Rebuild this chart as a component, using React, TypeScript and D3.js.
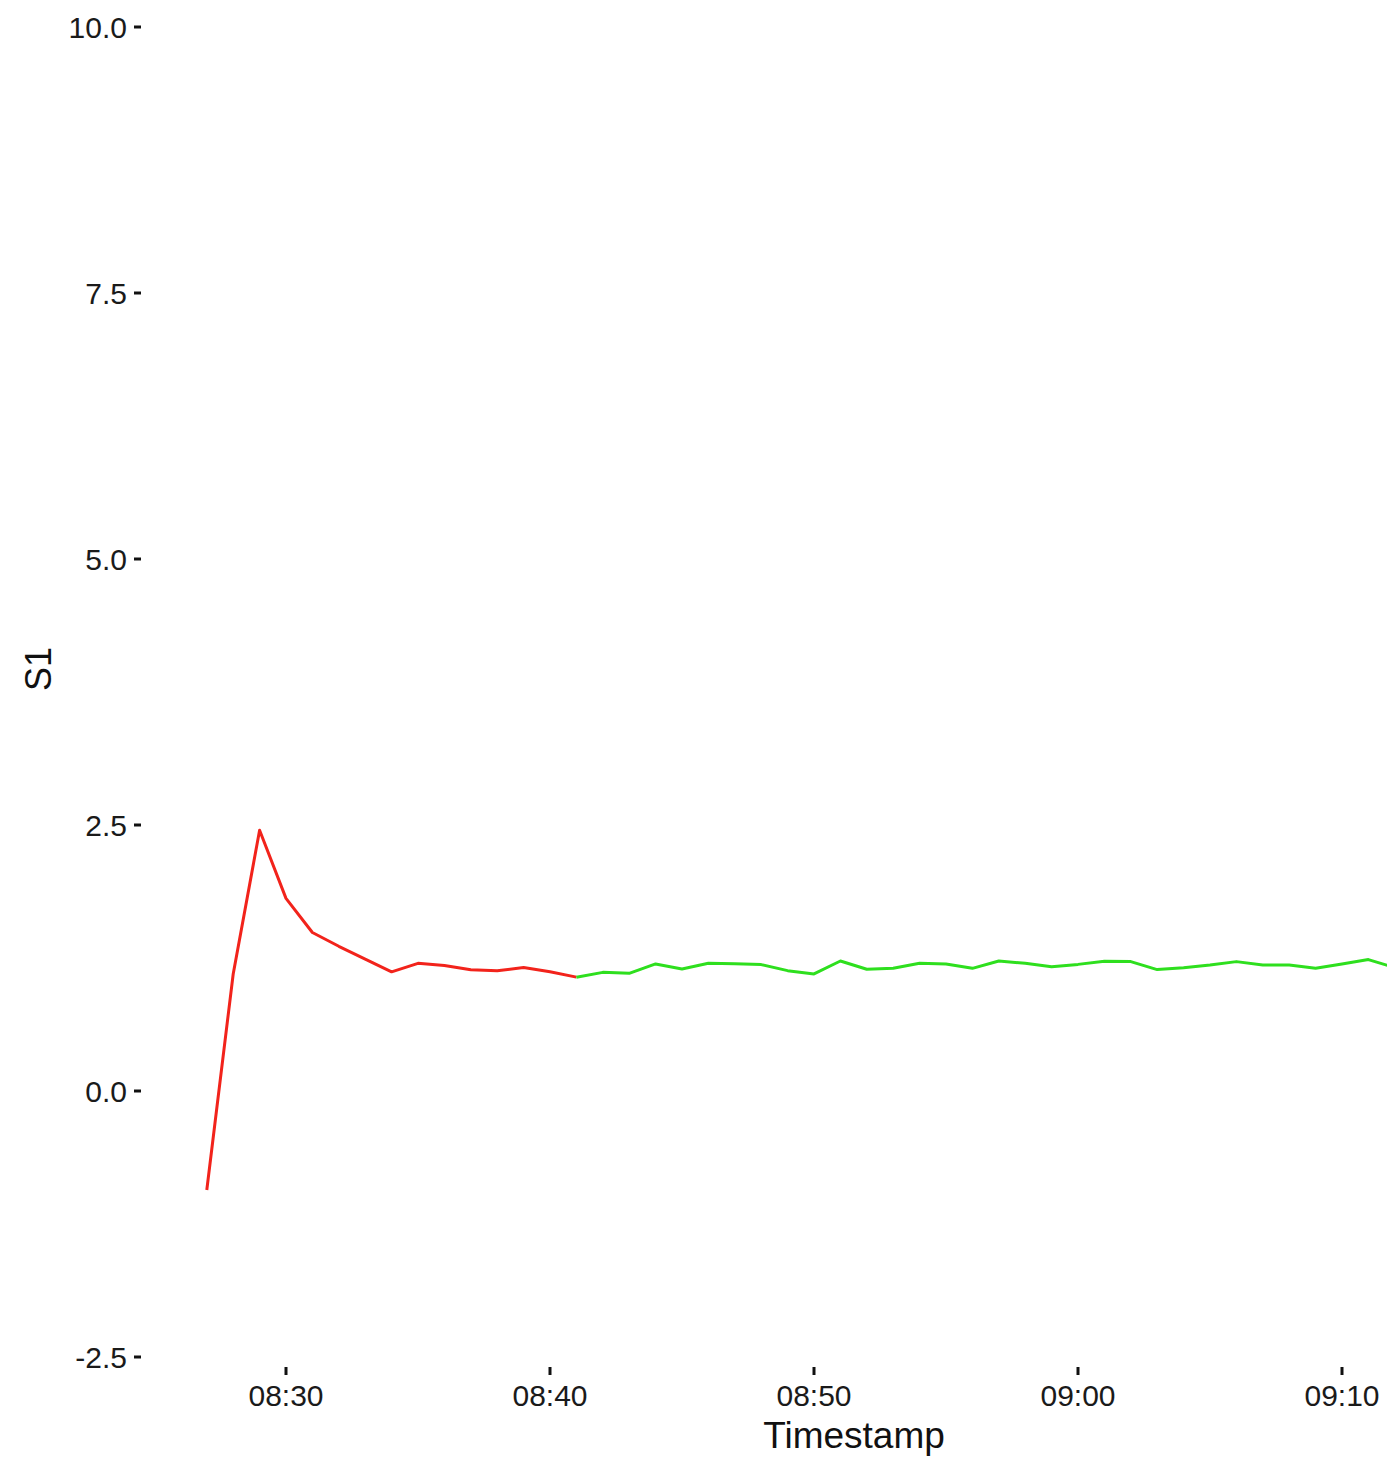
import React from "react";
import * as d3 from "d3";

const redTimes = ["08:27","08:28","08:29","08:30","08:31","08:32","08:33","08:34","08:35","08:36","08:37","08:38","08:39","08:40","08:41"];
const redValues = [-0.93,1.1,2.45,1.81,1.49,1.36,1.24,1.12,1.2,1.18,1.14,1.13,1.16,1.12,1.07];

const greenTimes = ["08:41","08:42","08:43","08:44","08:45","08:46","08:47","08:48","08:49","08:50","08:51","08:52","08:53","08:54","08:55","08:56","08:57","08:58","08:59","09:00","09:01","09:02","09:03","09:04","09:05","09:06","09:07","09:08","09:09","09:10","09:11","09:12"];
const greenValues = [1.07,1.115,1.106,1.194,1.147,1.2,1.197,1.188,1.131,1.1,1.222,1.144,1.153,1.2,1.194,1.153,1.222,1.2,1.168,1.19,1.219,1.216,1.141,1.159,1.184,1.216,1.184,1.184,1.153,1.194,1.235,1.16];

const yTicks = [-2.5, 0, 2.5, 5, 7.5, 10];
const xTickLabels = ["08:30","08:40","08:50","09:00","09:10"];

const W = 1387, H = 1460;
const parse = d3.timeParse("%H:%M");

export default function App() {
  const x = d3.scaleTime().domain([parse("08:30")!, parse("09:10")!]).range([286, 1342]);
  const y = d3.scaleLinear().domain([-2.5, 10]).range([1357, 27]);
  const line = d3.line<[string, number]>().x(d => x(parse(d[0])!)).y(d => y(d[1]));
  const red = redTimes.map((t, i) => [t, redValues[i]] as [string, number]);
  const green = greenTimes.map((t, i) => [t, greenValues[i]] as [string, number]);
  const font = "'Liberation Sans', Arial, sans-serif";
  return (
    <svg width={W} height={H} style={{ position: "absolute", left: 0, top: 0, background: "#fff", overflow: "hidden" }} fontFamily={font}>
      <rect x={0} y={0} width={W} height={H} fill="#fff" />
      {yTicks.map(v => (
        <g key={v}>
          <line x1={134} x2={141} y1={y(v)} y2={y(v)} stroke="#111" strokeWidth={3} />
          <text x={127} y={y(v)} dy="0.36em" textAnchor="end" fontSize={30} fill="#1a1a1a">{v.toFixed(1)}</text>
        </g>
      ))}
      {xTickLabels.map(t => {
        const px = x(parse(t)!);
        return (
          <g key={t}>
            <line x1={px} x2={px} y1={1367} y2={1375} stroke="#111" strokeWidth={3} />
            <text x={px} y={1406} textAnchor="middle" fontSize={30} fill="#1a1a1a">{t}</text>
          </g>
        );
      })}
      <path d={line(red)!} fill="none" stroke="#F2231B" strokeWidth={3} strokeLinejoin="round" />
      <path d={line(green)!} fill="none" stroke="#2EDF1E" strokeWidth={3} strokeLinejoin="round" />
      <text x={854} y={1448} textAnchor="middle" fontSize={37} fill="#111">Timestamp</text>
      <text transform="translate(51,669) rotate(-90)" textAnchor="middle" fontSize={36} fill="#111">S1</text>
    </svg>
  );
}
